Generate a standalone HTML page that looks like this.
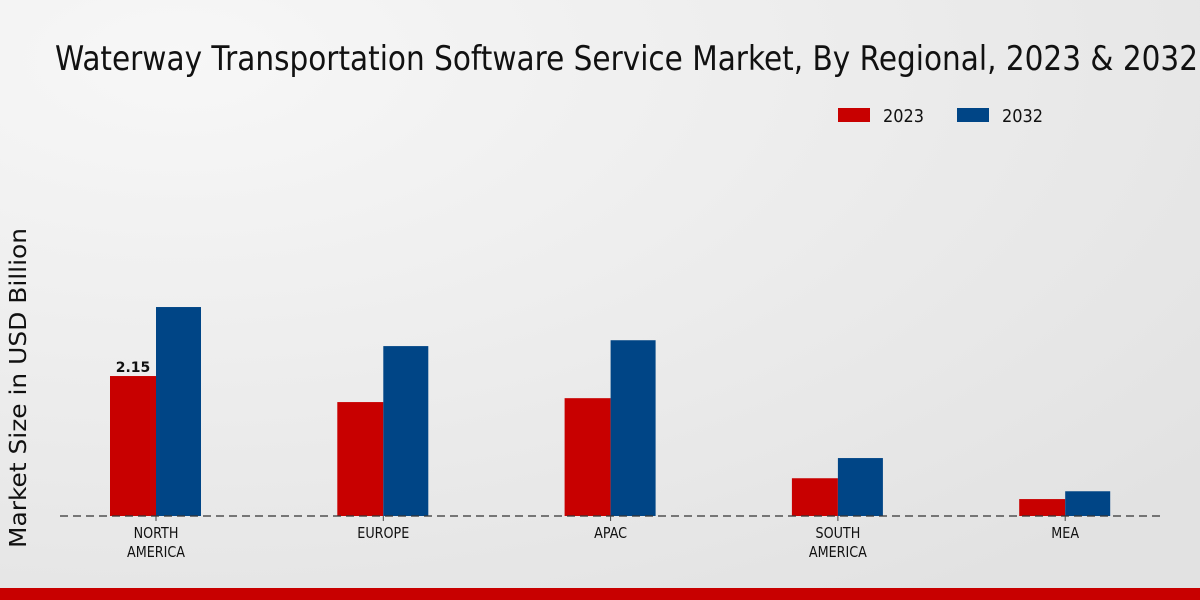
<!DOCTYPE html>
<html><head><meta charset="utf-8"><style>
html,body{margin:0;padding:0;width:1200px;height:600px;overflow:hidden}
text{font-family:"DejaVu Sans","Liberation Sans",sans-serif}
</style></head><body>
<svg id="chart" width="1200" height="600" xmlns="http://www.w3.org/2000/svg">
<defs><radialGradient id="bg" cx="0.15" cy="0.1" r="1.1"><stop offset="0" stop-color="#f7f7f7"/><stop offset="1" stop-color="#e2e2e2"/></radialGradient></defs>
<rect width="1200" height="600" fill="url(#bg)"/>
<text x="55" y="70" font-size="34" textLength="1143" lengthAdjust="spacingAndGlyphs" fill="#111">Waterway Transportation Software Service Market, By Regional, 2023 &amp; 2032</text>
<g>
<rect x="838" y="108" width="32" height="14" fill="#c80000"/>
<text x="883" y="122" font-size="18" textLength="41" lengthAdjust="spacingAndGlyphs" fill="#111">2023</text>
<rect x="957" y="108" width="32" height="14" fill="#004586"/>
<text x="1002" y="122" font-size="18" textLength="41" lengthAdjust="spacingAndGlyphs" fill="#111">2032</text>
</g>
<text transform="translate(26,388) rotate(-90)" text-anchor="middle" font-size="23" textLength="320" lengthAdjust="spacingAndGlyphs" fill="#111">Market Size in USD Billion</text>
<g id="bars"></g>
<line x1="60" y1="516" x2="1160" y2="516" stroke="#333" stroke-dasharray="8,5" stroke-width="1.2"/>
<g id="labels"></g>
<rect x="0" y="588" width="1200" height="12" fill="#c80000"/>
</svg>
<script>
const categories=[["NORTH","AMERICA"],["EUROPE"],["APAC"],["SOUTH","AMERICA"],["MEA"]];
const values2023=[2.15,1.75,1.81,0.58,0.26];
const values2032=[3.21,2.61,2.70,0.89,0.38];
const valueLabels=["2.15","","","",""];
const ns="http://www.w3.org/2000/svg";
const y0=516,scale=65.1;
function yPos(v){return y0-v*scale;}
function xCenter(i){return 156+i*227.3;}
const bars=document.getElementById('bars'),labels=document.getElementById('labels');
function mk(t,a){const e=document.createElementNS(ns,t);for(const k in a)e.setAttribute(k,a[k]);return e;}
categories.forEach((c,i)=>{
  const cx=xCenter(i);
  const r=mk('rect',{x:cx-46,y:yPos(values2023[i]),width:46,height:y0-yPos(values2023[i]),fill:'#c80000'});
  
  
  bars.appendChild(r);
  const b=mk('rect',{x:cx,y:yPos(values2032[i]),width:45,height:y0-yPos(values2032[i]),fill:'#004586'});
  
  
  bars.appendChild(b);
  if(valueLabels[i]){
    const t=mk('text',{x:cx-23,y:yPos(values2023[i])-4,'text-anchor':'middle','font-size':'14','font-weight':'bold',fill:'#111'});
    t.textContent=valueLabels[i];
    
    
    bars.appendChild(t);
  }
  const tk=mk('line',{x1:cx,y1:516,x2:cx,y2:521,stroke:'#444'});
  
  
  labels.appendChild(tk);
  c.forEach((ln,j)=>{
    const t=mk('text',{x:cx,y:538+j*19,'text-anchor':'middle','font-size':'15',fill:'#111'});
    t.setAttribute('transform','translate('+cx+',0) scale(0.85,1) translate('+(-cx)+',0)');
    t.textContent=ln;
    
    
    labels.appendChild(t);
  });
});
</script>
</body></html>
